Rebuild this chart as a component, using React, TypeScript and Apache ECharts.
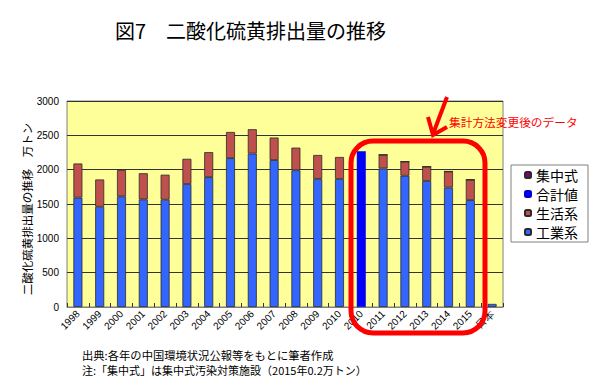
import React, { useEffect, useRef } from 'react';
import * as echarts from 'echarts';

const categories = [
  '1998', '1999', '2000', '2001', '2002', '2003', '2004', '2005', '2006', '2007',
  '2008', '2009', '2010', '2010', '2011', '2012', '2013', '2014', '2015', '日本',
];
// 工業系 (万トン)
const industrial = [
  1593, 1460, 1612, 1567, 1562, 1791, 1891, 2168, 2235, 2140,
  1991, 1866, 1864, null, 2017, 1912, 1835, 1740, 1557, 45,
];
// 生活系
const domestic = [
  497, 397, 383, 381, 365, 367, 364, 381, 354, 328,
  330, 348, 321, null, 200, 206, 209, 234, 297, null,
];
// 集中式
const centralized = [
  null, null, null, null, null, null, null, null, null, null,
  null, null, null, null, 0.3, 0.2, 0.2, 0.3, 0.2, null,
];
// 合計値 (new method, 2010)
const totalNew = [
  null, null, null, null, null, null, null, null, null, null,
  null, null, null, 2268, null, null, null, null, null, null,
];
const yMin = 0;
const yMax = 3000;
const yInterval = 500;

const JP = '"Noto Sans CJK JP", "Noto Sans", sans-serif';
const NUM = '"Liberation Sans", Arial, sans-serif';

export default function App() {
  const ref = useRef<HTMLDivElement>(null);
  useEffect(() => {
    const chart = echarts.init(ref.current!, undefined, { renderer: 'svg' });
    const barBorder = { borderColor: '#2a2a2a', borderWidth: 0.8 };
    chart.setOption({
      animation: false,
      backgroundColor: '#ffffff',
      title: {
        text: '図7　二酸化硫黄排出量の推移',
        left: 115,
        top: 20,
        padding: 0,
        textStyle: { fontFamily: JP, fontSize: 20, fontWeight: 'normal', color: '#000' },
      },
      legend: {
        orient: 'vertical',
        left: 511,
        top: 165,
        data: ['集中式', '合計値', '生活系', '工業系'],
        itemWidth: 6,
        itemHeight: 6,
        itemGap: 5,
        padding: [3, 10, 3, 13],
        backgroundColor: '#ffffff',
        borderColor: '#808080',
        borderWidth: 1,
        textStyle: { fontFamily: JP, fontSize: 14, lineHeight: 14, color: '#000' },
      },
      grid: {
        left: 67,
        right: 97,
        top: 101,
        bottom: 83,
        show: true,
        backgroundColor: '#ffff99',
        borderColor: '#808080',
        borderWidth: 1,
      },
      xAxis: {
        type: 'category',
        data: categories,
        axisLine: { show: true, lineStyle: { color: '#808080', width: 1 } },
        axisTick: { show: true, inside: true, length: 4, lineStyle: { color: '#333' } },
        axisLabel: {
          rotate: 45,
          interval: 0,
          margin: 5,
          fontFamily: NUM,
          fontSize: 10,
          color: '#000',
        },
      },
      yAxis: {
        type: 'value',
        min: yMin,
        max: yMax,
        interval: yInterval,
        axisLine: { show: false },
        axisTick: { show: false },
        axisLabel: {
          fontFamily: NUM,
          fontSize: 10,
          color: '#000',
          margin: 8,
          formatter: (v: number) => String(v),
        },
        splitLine: { show: true, lineStyle: { color: '#333', width: 1 } },
      },
      series: [
        {
          name: '工業系',
          type: 'bar',
          stack: 'total',
          barWidth: 9,
          data: industrial,
          itemStyle: { color: '#3366ff', ...barBorder },
        },
        {
          name: '生活系',
          type: 'bar',
          stack: 'total',
          barWidth: 9,
          data: domestic,
          itemStyle: { color: '#c0504d', ...barBorder },
        },
        {
          name: '集中式',
          type: 'bar',
          stack: 'total',
          barWidth: 9,
          data: centralized,
          itemStyle: { color: '#800080', ...barBorder },
        },
        {
          name: '合計値',
          type: 'bar',
          stack: 'total',
          barWidth: 9,
          data: totalNew,
          itemStyle: { color: '#0000ff', borderColor: '#0000cc', borderWidth: 0.5 },
        },
      ],
      graphic: [
        {
          type: 'text',
          x: 27,
          y: 209,
          rotation: Math.PI / 2,
          style: {
            text: '二酸化硫黄排出量の推移　万トン',
            fontFamily: JP,
            fontSize: 11.5,
            fill: '#000',
            align: 'center',
            verticalAlign: 'middle',
          },
        },
        {
          type: 'text',
          x: 82,
          y: 355,
          style: {
            text: '出典:各年の中国環境状況公報等をもとに筆者作成',
            fontFamily: JP,
            fontSize: 11.3,
            fill: '#000',
            align: 'left',
            verticalAlign: 'middle',
          },
        },
        {
          type: 'text',
          x: 82,
          y: 370,
          style: {
            text: '注:「集中式」は集中式汚染対策施設（2015年0.2万トン）',
            fontFamily: JP,
            fontSize: 11,
            fill: '#000',
            align: 'left',
            verticalAlign: 'middle',
          },
        },
        {
          type: 'text',
          x: 449,
          y: 121,
          z: 100,
          style: {
            text: '集計方法変更後のデータ',
            fontFamily: JP,
            fontSize: 11.7,
            fill: '#ff0000',
            align: 'left',
            verticalAlign: 'middle',
          },
        },
        {
          type: 'rect',
          z: 100,
          shape: { x: 351, y: 141, width: 134, height: 192, r: 22 },
          style: { fill: 'none', stroke: '#ff0000', lineWidth: 5 },
        },
        {
          type: 'line',
          z: 100,
          shape: { x1: 447, y1: 97, x2: 433, y2: 134 },
          style: { stroke: '#ff0000', lineWidth: 4 },
        },
        {
          type: 'polyline',
          z: 100,
          shape: { points: [[428, 117], [433, 135], [447, 127]] },
          style: { fill: 'none', stroke: '#ff0000', lineWidth: 4 },
        },
      ],
    });
    return () => chart.dispose();
  }, []);
  return (
    <div
      ref={ref}
      style={{ position: 'absolute', left: 0, top: 0, width: 600, height: 390 }}
    />
  );
}
